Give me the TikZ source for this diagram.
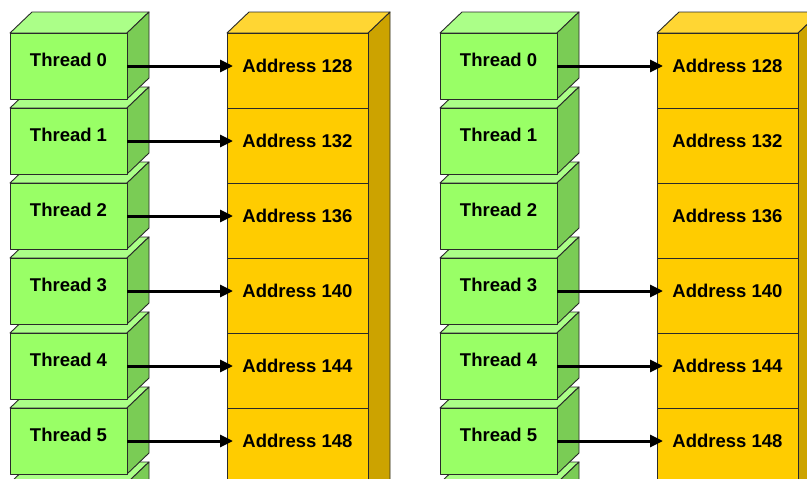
\documentclass[tikz,border=0pt]{standalone}
\usepackage{fontspec}
\setmainfont{Liberation Sans}
\usetikzlibrary{arrows.meta}

\definecolor{thrfront}{HTML}{99FF66}
\definecolor{thrtop}{HTML}{ABFF88}
\definecolor{thrside}{HTML}{7ACC55}
\definecolor{memfront}{HTML}{FFCC00}
\definecolor{memtop}{HTML}{FFD633}
\definecolor{memside}{HTML}{CCA300}
\definecolor{edge}{HTML}{2A2A2A}

% A green 3-D block for one thread: name, left x, top y
\newcommand\threadblock[3]{%
  \filldraw[face, fill=thrtop] (#2,#3) -- ++(22,-21) -- ++(117,0) -- ++(-22,21) -- cycle;
  \filldraw[face, fill=thrside] ({#2+117},#3) -- ++(22,-21) -- ++(0,66) -- ++(-22,21) -- cycle;
  \node[thread] (#1) at (#2,#3) {};
}

% A yellow 3-D memory column of address cells: prefix, left x
\newcommand\memcolumn[2]{%
  \filldraw[face, fill=memside] ({#2+141},33) -- ++(22,-21) -- ++(0,520) -- ++(-22,0) -- cycle;
  \filldraw[face, fill=memtop] (#2,33) -- ++(22,-21) -- ++(141,0) -- ++(-22,21) -- cycle;
  \filldraw[face, fill=memfront] (#2,33) rectangle ({#2+141},540);
  \foreach \i in {0,...,5} {
    \pgfmathtruncatemacro\addr{128+4*\i}
    \node[cell] (#1\i) at (#2,{33+75*\i}) {};
    \node[lbl] (#1\i-text) at ({#2+70.5},{72.5+75*\i}) {Address \addr};
  }
}

\begin{document}
\begin{tikzpicture}[x=1pt,y=-1pt,
  face/.style={draw=edge, line width=0.9pt, line join=round},
  thread/.style={face, fill=thrfront, minimum width=117pt, minimum height=66pt,
                 inner sep=0pt, outer sep=0pt, anchor=north west},
  cell/.style={face, fill=memfront, minimum width=141pt, minimum height=75pt,
               inner sep=0pt, outer sep=0pt, anchor=north west},
  lbl/.style={font=\bfseries\fontsize{18.5}{20}\selectfont, anchor=base, inner sep=0pt},
  link/.style={draw=black, line width=3pt, shorten >=-6pt,
               -{Triangle[length=13pt,width=12pt]}},
]
\useasboundingbox (0,0) rectangle (807,479);
\fill[white] (0,0) rectangle (807,479);
\clip (0,0) rectangle (807,479);

% memory columns
\memcolumn{aL}{227}
\memcolumn{aR}{657}

% thread stacks, drawn bottom to top so upper blocks overlap lower ones
\threadblock{tL6}{10}{483}
\threadblock{tR6}{440}{483}
\foreach \i in {5,4,...,0} {
  \threadblock{tL\i}{10}{33+75*\i}
  \node[lbl] (tL\i-text) at (68.5,{66+75*\i}) {Thread \i};
  \threadblock{tR\i}{440}{33+75*\i}
  \node[lbl] (tR\i-text) at (498.5,{66+75*\i}) {Thread \i};
}

% left: every thread reaches its own address
\foreach \i in {0,...,5} {
  \draw[link] (tL\i.east) -- (tL\i.east -| aL\i.west);
}

% right: only some threads access memory
\foreach \i in {0,3,4,5} {
  \draw[link] (tR\i.east) -- (tR\i.east -| aR\i.west);
}
\end{tikzpicture}
\end{document}
